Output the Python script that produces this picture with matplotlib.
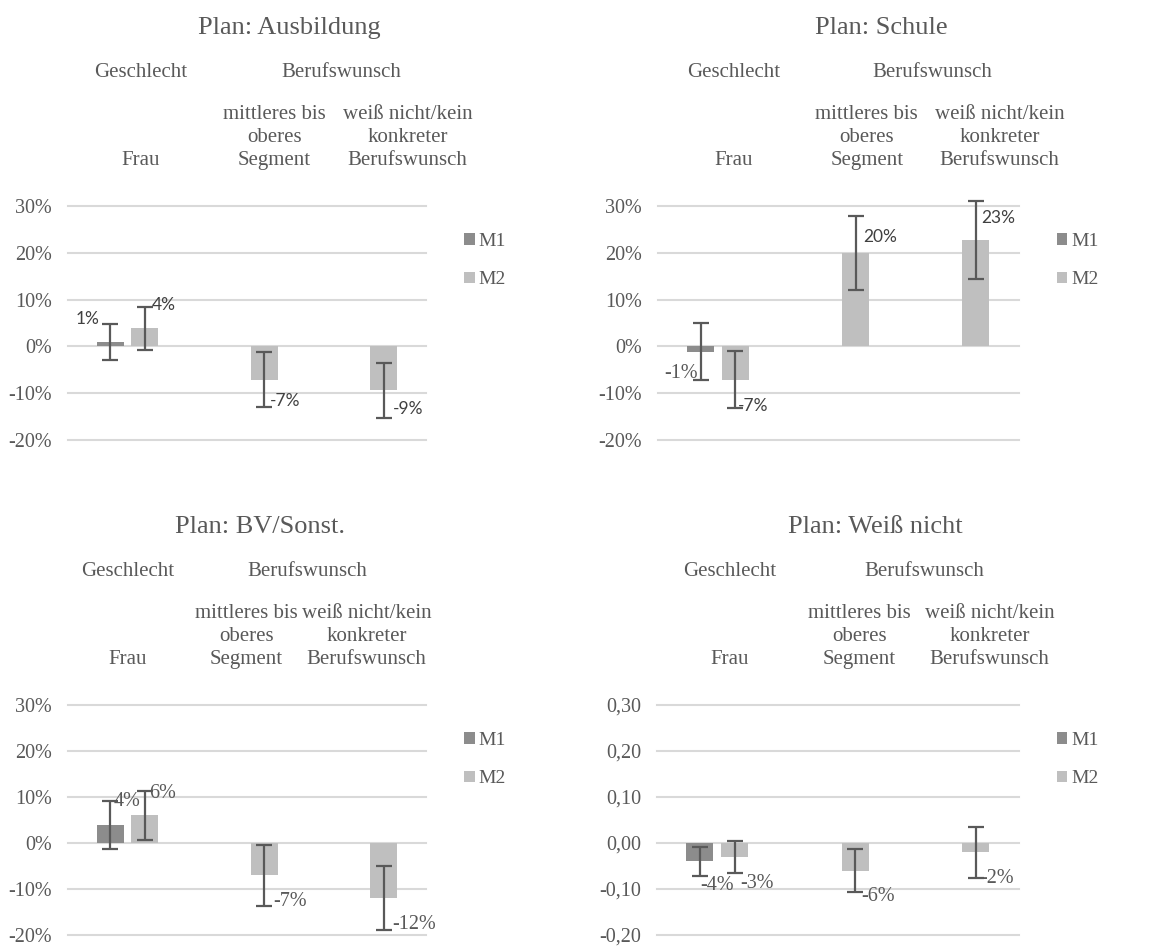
import numpy as np
import matplotlib
matplotlib.use("Agg")
import matplotlib.pyplot as plt
from matplotlib.ticker import FuncFormatter

plt.rcParams["font.family"] = ["Liberation Serif", "DejaVu Serif"]

nan = np.nan

categories = ["Frau", "mittleres bis\noberes\nSegment", "weiß nicht/kein\nkonkreter\nBerufswunsch"]
group_labels = ["Geschlecht", "Berufswunsch"]
series_names = ["M1", "M2"]
titles = ["Plan: Ausbildung", "Plan: Schule", "Plan: BV/Sonst.", "Plan: Weiß nicht"]

ausbildung_m1 = [0.009, nan, nan]
ausbildung_m1_err = [0.038, nan, nan]
ausbildung_m2 = [0.039, -0.071, -0.094]
ausbildung_m2_err = [0.046, 0.059, 0.059]

schule_m1 = [-0.011, nan, nan]
schule_m1_err = [0.060, nan, nan]
schule_m2 = [-0.071, 0.199, 0.227]
schule_m2_err = [0.061, 0.079, 0.083]

bv_m1 = [0.039, nan, nan]
bv_m1_err = [0.052, nan, nan]
bv_m2 = [0.060, -0.070, -0.120]
bv_m2_err = [0.054, 0.066, 0.069]

weiss_m1 = [-0.040, nan, nan]
weiss_m1_err = [0.032, nan, nan]
weiss_m2 = [-0.030, -0.060, -0.020]
weiss_m2_err = [0.035, 0.047, 0.055]

y_ticks = [-0.2, -0.1, 0.0, 0.1, 0.2, 0.3]

M1_COLOR = "#8c8c8c"
M2_COLOR = "#bfbfbf"
ERR_COLOR = "#595959"
GRID_COLOR = "#d9d9d9"
TEXT_COLOR = "#595959"
LABEL_DARK = "#404040"

W, H = 1157, 946
PT = 0.72  # pixels -> points at 100 dpi

# axes boxes in pixels: left, top, right, bottom
boxes = [(68, 206, 426, 440), (658, 206, 1018.7, 440),
         (68, 705, 426, 935), (657, 705, 1018.7, 935)]

# header x positions (axes fraction): title, group 1, group 2, categories
headers_x = [
    (0.617, 0.203, 0.763, [0.204, 0.577, 0.948]),
    (0.620, 0.211, 0.761, [0.211, 0.579, 0.947]),
    (0.536, 0.166, 0.669, [0.166, 0.499, 0.834]),
    (0.603, 0.200, 0.739, [0.200, 0.559, 0.920]),
]

# value label placement per panel: (series, category) -> dx px, dy px, ha, style
label_pos = [
    {(0, 0): (-23, 23.5, "center", "sans"), (1, 0): (7, 23, "left", "sans"),
     (1, 1): (5.5, -21.5, "left", "sans"), (1, 2): (9.5, -18.5, "left", "sans")},
    {(0, 0): (-19.5, -22, "center", "serif"), (1, 0): (2, -26, "left", "sans"),
     (1, 1): (7.5, 16.5, "left", "sans"), (1, 2): (5.5, 22.5, "left", "sans")},
    {(0, 0): (3.5, 23.5, "left", "serif"), (1, 0): (4, 22, "left", "serif"),
     (1, 1): (9, -26.5, "left", "serif"), (1, 2): (8.5, -26.5, "left", "serif")},
    {(0, 0): (0, -24.5, "left", "serif"), (1, 0): (6, -27, "left", "serif"),
     (1, 1): (6.5, -26, "left", "serif"), (1, 2): (4, -26.5, "left", "serif")},
]

panel_data = [
    (ausbildung_m1, ausbildung_m1_err, ausbildung_m2, ausbildung_m2_err),
    (schule_m1, schule_m1_err, schule_m2, schule_m2_err),
    (bv_m1, bv_m1_err, bv_m2, bv_m2_err),
    (weiss_m1, weiss_m1_err, weiss_m2, weiss_m2_err),
]

fig = plt.figure(figsize=(W / 100, H / 100), dpi=100)

x = np.arange(len(categories))
offset = 0.144
width = 0.224

for i, (m1, m1_err, m2, m2_err) in enumerate(panel_data):
    l, t, r, b = boxes[i]
    ax = fig.add_axes([l / W, 1 - b / H, (r - l) / W, (b - t) / H])

    bars = []
    xs = [x - offset, x + offset]
    for k, (vals, errs, color) in enumerate([(m1, m1_err, M1_COLOR), (m2, m2_err, M2_COLOR)]):
        bc = ax.bar(xs[k], vals, width, color=color, label=series_names[k], zorder=2)
        bars.append(bc)
        eb = ax.errorbar(xs[k], vals, yerr=errs, fmt="none", ecolor=ERR_COLOR,
                         elinewidth=1.6, capsize=5.5, capthick=1.6, zorder=3)
        for artist in eb.lines[1] + eb.lines[2]:
            artist.set_clip_on(False)
        for j, v in enumerate(vals):
            if np.isnan(v):
                continue
            dx, dy, ha, style = label_pos[i][(k, j)]
            if style == "sans":
                fam, size, col = ["Lato", "DejaVu Sans"], 12.5, LABEL_DARK
            else:
                fam, size, col = ["Liberation Serif"], 14.5, TEXT_COLOR
            ax.annotate(f"{round(v * 100):.0f}%", xy=(xs[k][j], v),
                        xytext=(dx * PT, dy * PT), textcoords="offset points",
                        ha=ha, va="center", fontsize=size, family=fam, color=col,
                        zorder=4, annotation_clip=False)

    ax.set_xlim(-0.5, 2.5)
    ax.set_ylim(-0.2, 0.3)
    ax.set_yticks(y_ticks)
    ax.set_xticks([])
    if i == 3:
        ax.yaxis.set_major_formatter(FuncFormatter(lambda v, _: f"{v:.2f}".replace(".", ",")))
    else:
        ax.yaxis.set_major_formatter(FuncFormatter(lambda v, _: f"{v * 100:.0f}%"))
    ax.tick_params(axis="y", length=0, pad=11.5, labelsize=14.5, labelcolor=TEXT_COLOR)
    ax.grid(axis="y", color=GRID_COLOR, linewidth=1.5)
    ax.set_axisbelow(True)
    for gl in ax.get_ygridlines():
        gl.set_clip_on(False)
    for s in ax.spines.values():
        s.set_visible(False)

    # titles and two-level category headers above the plot
    tx, g1x, g2x, cx = headers_x[i]
    hdr = dict(xycoords="axes fraction", textcoords="offset points",
               ha="center", va="baseline", color=TEXT_COLOR, annotation_clip=False)
    ax.annotate(titles[i], xy=(tx, 1), xytext=(0, 172 * PT), fontsize=19, **hdr)
    ax.annotate(group_labels[0], xy=(g1x, 1), xytext=(0, 129 * PT), fontsize=15, **hdr)
    ax.annotate(group_labels[1], xy=(g2x, 1), xytext=(0, 129 * PT), fontsize=15, **hdr)
    for j, cat in enumerate(categories):
        ax.annotate(cat, xy=(cx[j], 1), xytext=(0, 41 * PT), fontsize=15,
                    linespacing=1.27, **hdr)

    leg = ax.legend(handles=bars, loc="upper left",
                    bbox_to_anchor=(1 + 38 / (r - l), 1 - 27 / (b - t)),
                    frameon=False, fontsize=14, handlelength=0.55, handleheight=0.55,
                    handletextpad=0.2, labelspacing=1.1, borderpad=0, borderaxespad=0)
    for txt in leg.get_texts():
        txt.set_color(TEXT_COLOR)

fig.savefig("out.png", dpi=100)
